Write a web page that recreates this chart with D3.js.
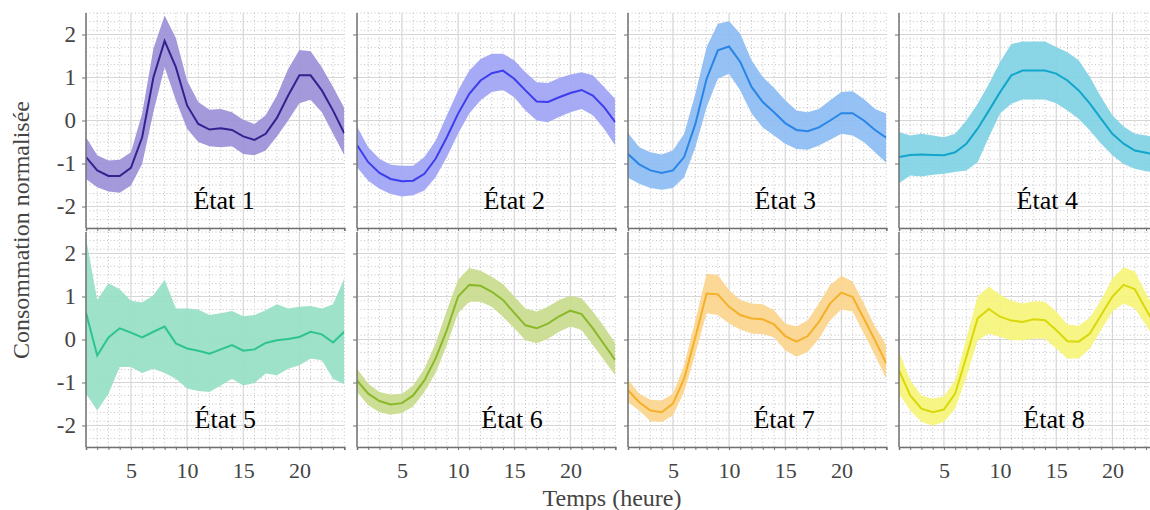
<!DOCTYPE html>
<html><head><meta charset="utf-8">
<script src="https://cdn.jsdelivr.net/npm/d3@7"></script>
<style>body{margin:0;background:#fff;} svg{display:block;}</style>
</head><body>
<svg id="chart" width="1150" height="510"></svg>
<script>
const hours = [1,2,3,4,5,6,7,8,9,10,11,12,13,14,15,16,17,18,19,20,21,22,23,24];
const stateLabels = ["État 1","État 2","État 3","État 4","État 5","État 6","État 7","État 8"];
const xTickValues = [5,10,15,20];
const yTickValues = [-2,-1,0,1,2];
const yTickLabels = ["-2","-1","0","1","2"];

const state1Mean  = [-0.85,-1.16,-1.29,-1.29,-1.10,-0.39,1.00,1.85,1.24,0.35,-0.08,-0.21,-0.18,-0.22,-0.37,-0.45,-0.31,0.06,0.58,1.05,1.05,0.70,0.23,-0.30];
const state1Upper = [-0.39,-0.81,-0.93,-0.91,-0.74,0.16,1.67,2.44,1.92,0.93,0.43,0.25,0.27,0.19,0.02,-0.08,0.12,0.58,1.20,1.64,1.61,1.24,0.78,0.29];
const state1Lower = [-1.36,-1.55,-1.65,-1.68,-1.51,-1.01,0.19,1.24,0.47,-0.19,-0.50,-0.60,-0.62,-0.60,-0.78,-0.81,-0.70,-0.37,0.00,0.40,0.48,0.19,-0.31,-0.81];

const state2Mean  = [-0.57,-0.97,-1.22,-1.36,-1.41,-1.40,-1.24,-0.89,-0.39,0.16,0.62,0.93,1.10,1.16,0.97,0.70,0.44,0.43,0.54,0.64,0.71,0.58,0.31,-0.04];
const state2Upper = [-0.14,-0.62,-0.89,-1.03,-1.05,-1.05,-0.85,-0.47,0.12,0.70,1.16,1.43,1.55,1.55,1.40,1.12,0.89,0.87,0.99,1.07,1.12,1.05,0.78,0.50];
const state2Lower = [-1.09,-1.40,-1.59,-1.71,-1.77,-1.74,-1.63,-1.32,-0.85,-0.31,0.16,0.47,0.66,0.71,0.54,0.23,0.00,-0.04,0.08,0.19,0.27,0.12,-0.19,-0.58];

const state3Mean  = [-0.78,-1.02,-1.16,-1.22,-1.16,-0.85,-0.08,0.97,1.63,1.72,1.36,0.78,0.43,0.19,-0.06,-0.22,-0.25,-0.16,0.00,0.17,0.17,0.00,-0.22,-0.40];
const state3Upper = [-0.29,-0.62,-0.74,-0.79,-0.70,-0.31,0.62,1.71,2.25,2.31,2.02,1.40,1.01,0.76,0.47,0.23,0.19,0.27,0.47,0.66,0.68,0.50,0.27,0.16];
const state3Lower = [-1.33,-1.47,-1.57,-1.61,-1.57,-1.32,-0.62,0.31,0.97,1.09,0.70,0.16,-0.16,-0.35,-0.54,-0.66,-0.68,-0.58,-0.45,-0.31,-0.35,-0.50,-0.74,-0.99];

const state4Mean  = [-0.85,-0.80,-0.79,-0.80,-0.81,-0.74,-0.54,-0.19,0.23,0.66,1.05,1.16,1.16,1.16,1.09,0.93,0.70,0.39,0.04,-0.31,-0.54,-0.70,-0.75,-0.80];
const state4Upper = [-0.27,-0.35,-0.31,-0.35,-0.39,-0.31,0.00,0.39,0.85,1.36,1.78,1.84,1.84,1.84,1.71,1.59,1.40,1.01,0.54,0.12,-0.14,-0.31,-0.35,-0.39];
const state4Lower = [-1.46,-1.28,-1.30,-1.26,-1.24,-1.20,-1.16,-0.97,-0.39,0.16,0.39,0.49,0.49,0.49,0.40,0.23,0.04,-0.23,-0.54,-0.81,-1.01,-1.12,-1.18,-1.22];

const state5Mean  = [0.62,-0.37,0.05,0.26,0.16,0.05,0.18,0.30,-0.09,-0.21,-0.26,-0.33,-0.23,-0.13,-0.26,-0.23,-0.08,-0.02,0.01,0.06,0.18,0.12,-0.07,0.18];
const state5Upper = [2.36,0.92,1.31,1.17,0.90,0.86,1.03,1.39,0.72,0.72,0.70,0.57,0.61,0.66,0.54,0.57,0.68,0.82,0.72,0.76,0.78,0.72,0.82,1.42];
const state5Lower = [-1.26,-1.65,-1.26,-0.64,-0.64,-0.78,-0.68,-0.78,-0.91,-1.14,-1.20,-1.22,-1.07,-0.91,-1.07,-1.01,-0.79,-0.83,-0.68,-0.60,-0.44,-0.48,-0.91,-1.04];

const state6Mean  = [-0.95,-1.26,-1.43,-1.51,-1.48,-1.30,-0.95,-0.44,0.22,1.00,1.27,1.25,1.11,0.92,0.62,0.33,0.26,0.37,0.54,0.67,0.59,0.26,-0.11,-0.48];
const state6Upper = [-0.68,-1.03,-1.22,-1.28,-1.26,-1.07,-0.68,-0.09,0.68,1.39,1.66,1.60,1.46,1.29,1.00,0.72,0.65,0.76,0.92,1.02,0.96,0.65,0.30,-0.09];
const state6Lower = [-1.22,-1.53,-1.69,-1.75,-1.71,-1.56,-1.22,-0.78,-0.13,0.61,0.88,0.88,0.76,0.53,0.26,-0.02,-0.09,0.02,0.18,0.30,0.22,-0.13,-0.48,-0.83];

const state7Mean  = [-1.18,-1.46,-1.65,-1.69,-1.49,-0.91,0.06,1.07,1.05,0.76,0.57,0.49,0.47,0.35,0.08,-0.05,0.08,0.41,0.84,1.09,0.99,0.49,-0.02,-0.56];
const state7Upper = [-0.93,-1.26,-1.40,-1.42,-1.26,-0.60,0.45,1.53,1.50,1.15,0.92,0.84,0.82,0.68,0.37,0.30,0.45,0.84,1.27,1.48,1.35,0.84,0.30,-0.13];
const state7Lower = [-1.46,-1.65,-1.90,-1.92,-1.77,-1.22,-0.33,0.61,0.57,0.37,0.23,0.14,0.12,0.05,-0.25,-0.40,-0.29,0.02,0.45,0.70,0.65,0.14,-0.37,-0.91];

const state8Mean  = [-0.72,-1.30,-1.61,-1.69,-1.63,-1.26,-0.40,0.49,0.71,0.53,0.44,0.41,0.47,0.45,0.22,-0.04,-0.05,0.14,0.57,1.00,1.27,1.17,0.70,0.25];
const state8Upper = [-0.29,-0.95,-1.30,-1.38,-1.32,-0.95,0.02,1.00,1.23,1.04,0.90,0.84,0.89,0.88,0.65,0.35,0.32,0.51,0.92,1.42,1.68,1.58,1.07,0.60];
const state8Lower = [-1.26,-1.65,-1.92,-2.00,-1.92,-1.61,-0.87,-0.02,0.14,0.06,-0.02,-0.02,0.02,0.02,-0.21,-0.44,-0.44,-0.21,0.22,0.65,0.84,0.72,0.33,-0.09];

const means  = [state1Mean,state2Mean,state3Mean,state4Mean,state5Mean,state6Mean,state7Mean,state8Mean];
const uppers = [state1Upper,state2Upper,state3Upper,state4Upper,state5Upper,state6Upper,state7Upper,state8Upper];
const lowers = [state1Lower,state2Lower,state3Lower,state4Lower,state5Lower,state6Lower,state7Lower,state8Lower];

// styles
const lineColors = ["#34218f","#3d3ded","#2a86e6","#12a6cb","#2dc490","#8ab82a","#f5b02a","#d9d80a"];
const fillColors = ["#9b90d8","#a0a4f5","#8cbcf4","#80d2e5","#96dfc4","#c9dc8e","#fbd58c","#f6f47a"];
const labelHour = [13.3,15.0,15.0,14.2,13.4,14.8,14.9,14.8];
const labelValue = -2.05;

const svg = d3.select("#chart");
const pw = 258.3, ph = 215;
const left0 = 86, top0 = 13, dx = 271, dy = 219;
const serif = "'Liberation Serif','Times New Roman',serif";

const x = d3.scaleLinear().domain([1,24]).range([0,pw]);
const y = d3.scaleLinear().domain([-2.5,2.5]).range([ph,0]);
const minorX = d3.range(1,25).filter(v => v%5 !== 0);
const minorY = d3.range(-25,26,2).map(v=>v/10).filter(v=>Math.abs(v-Math.round(v))>1e-6);

const defs = svg.append("defs");
defs.append("clipPath").attr("id","pclip").append("rect").attr("x",0).attr("y",0).attr("width",pw).attr("height",ph);

for (let i=0;i<8;i++){
  const col = i%4, row = Math.floor(i/4);
  const g = svg.append("g").attr("transform",`translate(${left0+col*dx},${top0+row*dy})`);
  // minor grid
  g.append("g").selectAll("line").data(minorX).join("line")
    .attr("x1",d=>x(d)).attr("x2",d=>x(d)).attr("y1",0).attr("y2",ph)
    .attr("stroke","#b4b4b4").attr("stroke-width",0.8).attr("stroke-dasharray","1,2.5");
  g.append("g").selectAll("line").data(minorY).join("line")
    .attr("y1",d=>y(d)).attr("y2",d=>y(d)).attr("x1",0).attr("x2",pw)
    .attr("stroke","#b4b4b4").attr("stroke-width",0.8).attr("stroke-dasharray","1,2.5");
  // major grid
  g.append("g").selectAll("line").data(xTickValues).join("line")
    .attr("x1",d=>x(d)).attr("x2",d=>x(d)).attr("y1",0).attr("y2",ph)
    .attr("stroke","#d6d6d6").attr("stroke-width",1.2);
  g.append("g").selectAll("line").data(yTickValues).join("line")
    .attr("y1",d=>y(d)).attr("y2",d=>y(d)).attr("x1",0).attr("x2",pw)
    .attr("stroke","#d6d6d6").attr("stroke-width",1.2);

  const pts = hours.map((h,k)=>({h, m:means[i][k], u:uppers[i][k], l:lowers[i][k]}));
  const area = d3.area().x(d=>x(d.h)).y0(d=>y(d.l)).y1(d=>y(d.u));
  const line = d3.line().x(d=>x(d.h)).y(d=>y(d.m));
  const pg = g.append("g").attr("clip-path","url(#pclip)");
  pg.append("path").datum(pts).attr("d",area).attr("fill",fillColors[i]).attr("fill-opacity",0.92);
  pg.append("path").datum(pts).attr("d",line).attr("fill","none").attr("stroke",lineColors[i]).attr("stroke-width",2);

  // axes
  const xAxis = d3.axisBottom(x).tickValues(hours).tickSize(3).tickFormat("");
  const xa = g.append("g").attr("transform",`translate(0,${ph})`).call(xAxis);
  xa.select(".domain").attr("stroke","#707070").attr("stroke-width",1.5);
  xa.selectAll(".tick line").attr("stroke","#707070");
  if (row===1){
    const xl = d3.axisBottom(x).tickValues(xTickValues).tickSize(0).tickPadding(15);
    const xg = g.append("g").attr("transform",`translate(0,${ph})`).call(xl);
    xg.select(".domain").remove();
    xg.selectAll("text").attr("font-family",serif).attr("font-size",22).attr("fill","#444");
  }
  const yAxis = d3.axisLeft(y).tickValues(yTickValues).tickSize(4)
    .tickFormat((d,k)=> col===0 ? yTickLabels[k] : "").tickPadding(6);
  const ya = g.append("g").call(yAxis);
  ya.select(".domain").attr("stroke","#707070").attr("stroke-width",1.5).attr("d",`M0,${ph}V0`);
  ya.selectAll(".tick line").attr("stroke","#707070");
  ya.selectAll("text").attr("font-family",serif).attr("font-size",23).attr("fill","#444");

  g.append("text").attr("x",x(labelHour[i])).attr("y",y(labelValue))
    .attr("text-anchor","middle").attr("font-family",serif).attr("font-size",26)
    .attr("fill","#000").text(stateLabels[i]);
}

svg.append("text").attr("transform",`translate(29,230) rotate(-90)`)
  .attr("text-anchor","middle").attr("font-family",serif).attr("font-size",24)
  .attr("fill","#444").text("Consommation normalisée");
svg.append("text").attr("x",612).attr("y",506)
  .attr("text-anchor","middle").attr("font-family",serif).attr("font-size",24)
  .attr("fill","#444").text("Temps (heure)");
</script>
</body></html>
